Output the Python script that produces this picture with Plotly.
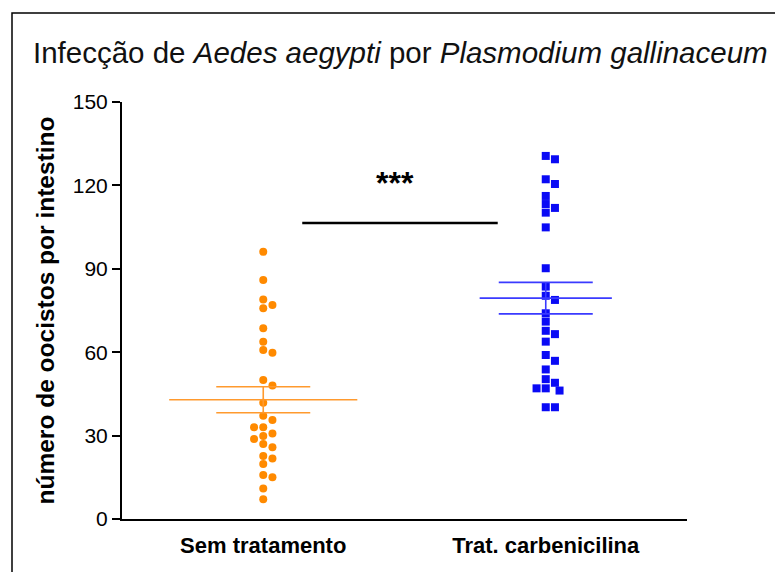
import numpy as np
import plotly.graph_objects as go

categories = ["Sem tratamento", "Trat. carbenicilina"]
sem_tratamento = [96.1, 86.0, 79.0, 77.0, 75.8, 68.6, 63.8, 60.8, 59.8, 50.0, 48.0, 41.8,
                  37.1, 35.6, 33.0, 33.0, 30.8, 29.9, 28.8, 27.0, 25.8, 22.7, 21.8, 19.8,
                  15.8, 15.0, 11.0, 7.1]
carbenicilina = [130.6, 129.4, 122.2, 120.5, 116.2, 113.3, 111.9, 110.2, 104.9, 90.2, 83.6,
                 80.3, 78.8, 74.0, 71.0, 67.7, 66.5, 63.8, 59.0, 56.9, 53.8, 50.3, 49.0,
                 47.0, 47.0, 46.2, 40.2, 40.2]
y_ticks = [0, 30, 60, 90, 120, 150]
significance = "***"

OFF = 8  # page body margin offset
W, H = 783, 572
ML, MR, MT, MB = 122 - OFF, 783 - (687 - OFF), 102 - OFF, 572 - (519 - OFF)
XR = [-0.5, 1.5]
YR = [0, 150]
PW, PH = W - ML - MR, H - MT - MB
px_x = PW / (XR[1] - XR[0])
px_y = PH / (YR[1] - YR[0])


def swarm(vals, center, diam=7.8, step=4.6):
    placed = []
    xs = [0.0] * len(vals)
    order = np.argsort(vals)[::-1]
    cands = [0]
    for j in range(1, 10):
        cands += [j, -j]
    for i in order:
        yp = vals[i] * px_y
        for c in cands:
            xp = c * step
            if all((xp - a) ** 2 + (yp - b) ** 2 >= diam ** 2 for a, b in placed):
                placed.append((xp, yp))
                xs[i] = center + xp / px_x
                break
    return xs


colors = ["#FF8A00", "#0A0AF5"]
line_colors = ["#FF9A2E", "#3A3AFF"]
symbols = ["circle", "square"]
mean_half = [0.333, 0.234]
groups = [sem_tratamento, carbenicilina]

fig = go.Figure()
for gi, vals in enumerate(groups):
    xs = swarm(vals, gi)
    fig.add_trace(go.Scatter(x=xs, y=vals, mode="markers",
                             marker=dict(symbol=symbols[gi], size=8, color=colors[gi],
                                         line=dict(width=0)),
                             showlegend=False, hoverinfo="y"))
    m = float(np.mean(vals))
    sem = float(np.std(vals, ddof=1) / np.sqrt(len(vals)))
    fig.add_trace(go.Scatter(x=[gi - mean_half[gi], gi + mean_half[gi]], y=[m, m], mode="lines",
                             line=dict(color=line_colors[gi], width=1.6), showlegend=False))
    fig.add_trace(go.Scatter(x=[gi], y=[m], mode="markers", marker=dict(size=1, color=line_colors[gi]),
                             error_y=dict(type="data", array=[sem], color=line_colors[gi],
                                          thickness=1.6, width=47),
                             showlegend=False))

# significance bar
fig.add_shape(type="line", x0=0.138, x1=0.83, y0=106.5, y1=106.5, xref="x", yref="y",
              line=dict(color="black", width=2.5))
fig.add_annotation(x=0.468, y=121, xref="x", yref="y", text="<b>" + significance + "</b>",
                   showarrow=False, font=dict(size=32, color="black", family="Liberation Sans"))

# outer frame
fig.add_shape(type="rect", xref="paper", yref="paper",
              x0=(12 - OFF - ML) / PW, x1=1.3,
              y0=-0.3, y1=(H - MB - (13 - OFF)) / PH,
              line=dict(color="black", width=1.5), fillcolor="rgba(0,0,0,0)")

fig.update_layout(
    width=W, height=H,
    margin=dict(l=ML, r=MR, t=MT, b=MB),
    paper_bgcolor="white", plot_bgcolor="white",
    title=dict(text="Infecção de <i>Aedes aegypti</i> por <i>Plasmodium gallinaceum</i>",
               x=(33 - OFF) / W, xanchor="left", xref="container",
               y=1 - (53 - OFF) / H, yanchor="middle", yref="container",
               font=dict(family="Liberation Sans", size=29.5, color="#111")),
    xaxis=dict(range=XR, tickvals=[0, 1], ticktext=["<b>" + c + "</b>" for c in categories],
               showgrid=False, zeroline=False, showline=True, linecolor="black", linewidth=2,
               ticks="outside", ticklen=6, tickcolor="rgba(0,0,0,0)",
               tickfont=dict(family="Liberation Sans", size=22, color="black"), fixedrange=True),
    yaxis=dict(range=YR, tickvals=y_ticks, showgrid=False, zeroline=False, showline=True,
               linecolor="black", linewidth=2, ticks="outside", ticklen=8, tickwidth=2,
               tickcolor="black",
               tickfont=dict(family="Liberation Sans", size=21, color="black"),
               title=dict(text="<b>número de oocistos por intestino</b>", standoff=11,
                          font=dict(family="Liberation Sans", size=24.5, color="black"))),
)

fig.write_html("out.html")
